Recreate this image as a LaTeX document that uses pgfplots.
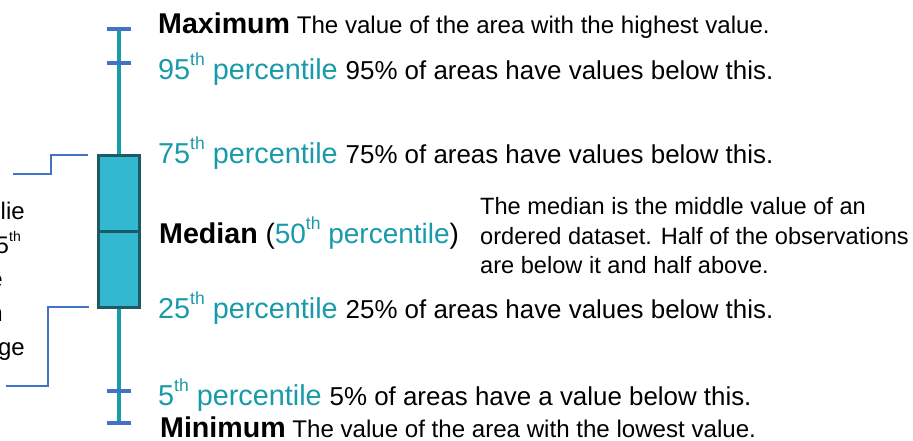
\documentclass[border=0pt]{standalone}
\usepackage{fontspec}
\setmainfont{Liberation Sans}
\usepackage{pgfplots}
\pgfplotsset{compat=1.18}
\usepgfplotslibrary{statistics}
\definecolor{tealtxt}{RGB}{24,154,170}
\definecolor{whisk}{RGB}{23,156,172}
\definecolor{capblue}{RGB}{68,114,196}
\definecolor{boxfill}{RGB}{51,184,209}
\definecolor{boxdark}{RGB}{30,90,100}
\newcommand\sth{\raisebox{14bp}{\fontsize{17.5bp}{17bp}\selectfont th}}
\newcommand\ssth{\raisebox{12bp}{\fontsize{14bp}{14bp}\selectfont th}}
\newcommand\bigf{\fontsize{28.8bp}{32bp}\selectfont}
\newcommand\boldf{\fontsize{28.6bp}{32bp}\selectfont\bfseries}
\begin{document}
\begin{tikzpicture}
\useasboundingbox (0,0) rectangle (913bp,441bp);
\begin{scope}
\clip (0,0) rectangle (913bp,441bp);
\begin{axis}[at={(0,0)}, anchor=south west, scale only axis,
  width=913bp, height=441bp, xmin=0, xmax=913, ymin=0, ymax=441,
  y dir=reverse, hide axis, clip=false]
% brackets
\addplot[capblue, line width=1.3bp, mark=none] coordinates {(88,155) (51,155) (51,174) (13,174)};
\addplot[capblue, line width=1.3bp, mark=none] coordinates {(89,307) (48,307) (48,386) (6,386)};
% box plot
\addplot[boxplot/draw direction=y,
   boxplot prepared={draw position=119, lower whisker=423, lower quartile=307,
   median=231, upper quartile=155, upper whisker=29, box extend=41, whisker extend=0},
   boxplot/every box/.style={fill=boxfill, draw=boxdark, line width=3bp},
   boxplot/every median/.style={draw=boxdark, line width=3bp},
   boxplot/every whisker/.style={draw=whisk, line width=4bp}] coordinates {};
% caps
\addplot[only marks, mark=-, mark size=12bp, mark options={line width=4bp, draw=capblue}]
  coordinates {(119,29) (119,63) (119,391) (119,423)};
% right texts
\node[anchor=base west, font=\fontsize{24.1bp}{29bp}\selectfont, inner sep=0pt] at (axis cs:158,34)
  {{\boldf Maximum} The value of the area with the highest value.};
\node[anchor=base west, font=\fontsize{25.9bp}{29bp}\selectfont, inner sep=0pt] at (axis cs:158,80)
  {{\color{tealtxt}\bigf 95\sth\ percentile }95\% of areas have values below this.};
\node[anchor=base west, font=\fontsize{25.9bp}{29bp}\selectfont, inner sep=0pt] at (axis cs:158,163)
  {{\color{tealtxt}\bigf 75\sth\ percentile }75\% of areas have values below this.};
\node[anchor=base west, font=\fontsize{28bp}{32bp}\selectfont, inner sep=0pt] at (axis cs:159,243)
  {{\boldf Median} ({\color{tealtxt}50\sth\ percentile})};
\node[anchor=base west, font=\fontsize{23.6bp}{29bp}\selectfont, inner sep=0pt] at (axis cs:480,214)
  {The median is the middle value of an};
\node[anchor=base west, font=\fontsize{23.6bp}{29bp}\selectfont, inner sep=0pt] at (axis cs:480,244)
  {ordered dataset. Half of the observations};
\node[anchor=base west, font=\fontsize{23.6bp}{29bp}\selectfont, inner sep=0pt] at (axis cs:480,273)
  {are below it and half above.};
\node[anchor=base west, font=\fontsize{25.9bp}{29bp}\selectfont, inner sep=0pt] at (axis cs:158,318)
  {{\color{tealtxt}\bigf 25\sth\ percentile }25\% of areas have values below this.};
\node[anchor=base west, font=\fontsize{25.9bp}{29bp}\selectfont, inner sep=0pt] at (axis cs:158,405)
  {{\color{tealtxt}\bigf 5\sth\ percentile }5\% of areas have a value below this.};
\node[anchor=base west, font=\fontsize{24.1bp}{29bp}\selectfont, inner sep=0pt, text depth=0pt] at (axis cs:160,437)
  {{\boldf Minimum} The value of the area with the lowest value.};
% left texts (cropped at the left edge, as in the reference)
\node[anchor=base east, font=\fontsize{24bp}{29bp}\selectfont, inner sep=0pt] at (axis cs:25,219) {Half of all areas lie};
\node[anchor=base east, font=\fontsize{24bp}{29bp}\selectfont, inner sep=0pt] at (axis cs:21,253) {between the 25\ssth};
\node[anchor=base east, font=\fontsize{24bp}{29bp}\selectfont, inner sep=0pt] at (axis cs:3,287) {and 75\ssth\ percentile};
\node[anchor=base east, font=\fontsize{24bp}{29bp}\selectfont, inner sep=0pt] at (axis cs:3,321) {This is known};
\node[anchor=base east, font=\fontsize{24bp}{29bp}\selectfont, inner sep=0pt] at (axis cs:25,355) {as the interquartile range};
\end{axis}
\end{scope}
\end{tikzpicture}
\end{document}
